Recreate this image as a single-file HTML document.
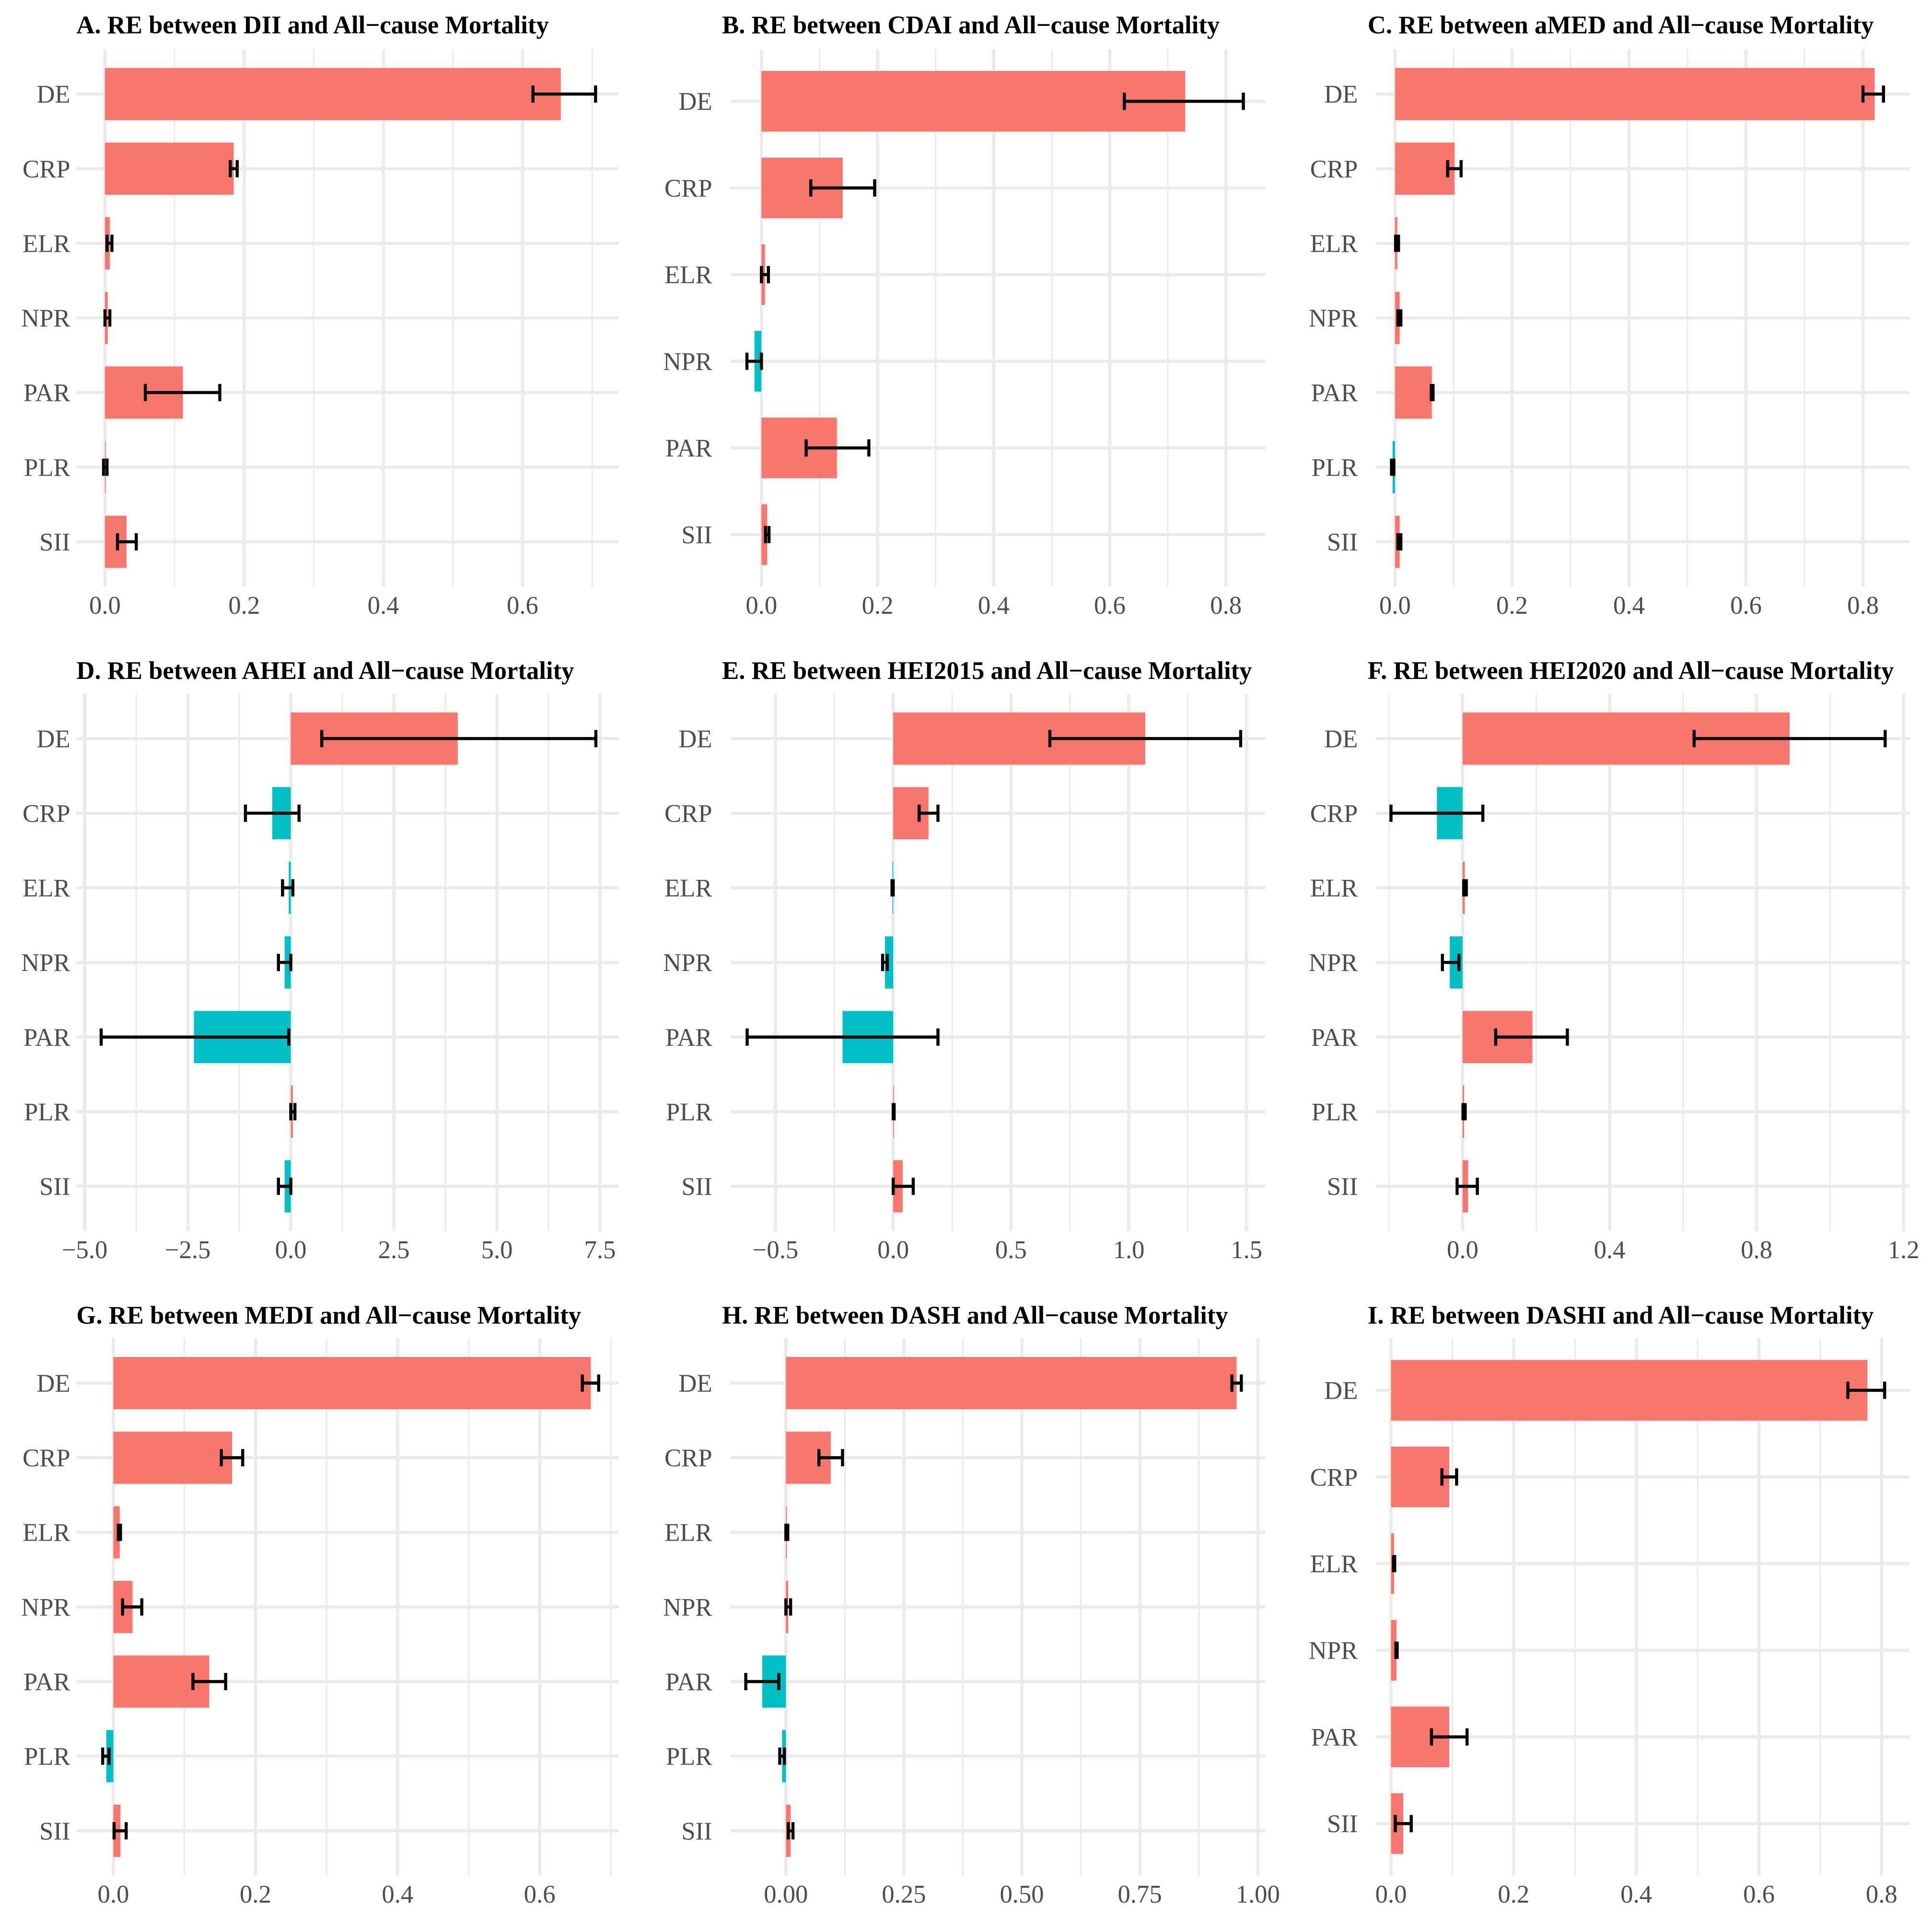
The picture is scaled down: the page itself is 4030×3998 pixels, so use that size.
<!DOCTYPE html>
<html><head><meta charset="utf-8"><style>
html,body{margin:0;padding:0;background:#fff;}
svg{display:block;}
text{font-family:"Liberation Serif",serif;}
</style></head><body>
<svg id="fig" width="4030" height="3998" viewBox="0 0 1568 1555.6" xmlns="http://www.w3.org/2000/svg">
<rect width="1568" height="1555.6" fill="#fff"/>
</svg>
<script>
const cats7 = ["DE","CRP","ELR","NPR","PAR","PLR","SII"];
const cats6 = ["DE","CRP","ELR","NPR","PAR","SII"];
const cats6b = ["DE","CRP","ELR","NPR","PAR","SII"];
// A
const estA=[0.655,0.185,0.007,0.004,0.112,0.001,0.031];
const lowA=[0.615,0.180,0.003,0.000,0.058,-0.002,0.018];
const highA=[0.705,0.190,0.010,0.007,0.165,0.003,0.045];
const ticksA=[0,0.2,0.4,0.6];
const tickLabA=["0.0","0.2","0.4","0.6"];
// B
const estB=[0.730,0.140,0.006,-0.012,0.130,0.010];
const lowB=[0.625,0.085,0.000,-0.025,0.077,0.007];
const highB=[0.830,0.195,0.012,0.000,0.185,0.013];
const ticksB=[0,0.2,0.4,0.6,0.8];
const tickLabB=["0.0","0.2","0.4","0.6","0.8"];
// C
const estC=[0.820,0.102,0.004,0.008,0.063,-0.004,0.008];
const lowC=[0.800,0.090,0.001,0.005,0.062,-0.006,0.005];
const highC=[0.835,0.113,0.006,0.010,0.065,-0.002,0.010];
const ticksC=[0,0.2,0.4,0.6,0.8];
const tickLabC=["0.0","0.2","0.4","0.6","0.8"];
// D
const estD=[4.05,-0.45,-0.05,-0.15,-2.35,0.05,-0.15];
const lowD=[0.75,-1.10,-0.20,-0.30,-4.60,0.00,-0.30];
const highD=[7.40,0.20,0.05,0.00,-0.05,0.10,0.00];
const ticksD=[-5,-2.5,0,2.5,5,7.5];
const tickLabD=["\u22125.0","\u22122.5","0.0","2.5","5.0","7.5"];
// E
const estE=[1.070,0.150,-0.003,-0.035,-0.215,0.002,0.040];
const lowE=[0.665,0.110,-0.005,-0.045,-0.620,0.000,0.000];
const highE=[1.475,0.190,0.000,-0.025,0.190,0.004,0.085];
const ticksE=[-0.5,0,0.5,1.0,1.5];
const tickLabE=["\u22120.5","0.0","0.5","1.0","1.5"];
// F
const estF=[0.890,-0.070,0.006,-0.035,0.190,0.004,0.015];
const lowF=[0.630,-0.195,0.003,-0.055,0.090,0.001,-0.015];
const highF=[1.150,0.055,0.010,-0.010,0.285,0.007,0.040];
const ticksF=[0,0.4,0.8,1.2];
const tickLabF=["0.0","0.4","0.8","1.2"];
// G
const estG=[0.672,0.167,0.009,0.027,0.135,-0.010,0.010];
const lowG=[0.660,0.152,0.007,0.013,0.112,-0.015,0.001];
const highG=[0.683,0.182,0.010,0.040,0.158,-0.006,0.018];
const ticksG=[0,0.2,0.4,0.6];
const tickLabG=["0.0","0.2","0.4","0.6"];
// H
const estH=[0.955,0.095,0.002,0.005,-0.050,-0.008,0.010];
const lowH=[0.945,0.070,0.000,0.000,-0.085,-0.013,0.005];
const highH=[0.965,0.120,0.004,0.010,-0.015,-0.003,0.015];
const ticksH=[0,0.25,0.5,0.75,1.0];
const tickLabH=["0.00","0.25","0.50","0.75","1.00"];
// I
const estI=[0.777,0.095,0.005,0.009,0.095,0.020];
const lowI=[0.745,0.083,0.004,0.008,0.066,0.007];
const highI=[0.805,0.107,0.006,0.010,0.124,0.033];
const ticksI=[0,0.2,0.4,0.6,0.8];
const tickLabI=["0.0","0.2","0.4","0.6","0.8"];

const NS="http://www.w3.org/2000/svg";
const svg=document.getElementById("fig");
function mk(tag,attrs,parent){const e=document.createElementNS(NS,tag);for(const k in attrs)e.setAttribute(k,attrs[k]);(parent||svg).appendChild(e);return e;}

const cols=[{gl:62,gr:502,tx:62,lx:57},{gl:593,gr:1027,tx:586,lx:578},{gl:1117,gr:1550,tx:1110,lx:1102}];
const rows=[{top:40,bot:476,ty:27,tk:498},{top:563,bot:999,ty:551,tk:1021},{top:1086,bot:1522,ty:1074,tk:1544}];

const panels=[
 {id:"a",title:"A. RE between DII and All\u2212cause Mortality",c:0,r:0,cats:cats7,est:estA,low:lowA,high:highA,ticks:ticksA,lab:tickLabA,d0:-0.041,d1:0.738},
 {id:"b",title:"B. RE between CDAI and All\u2212cause Mortality",c:1,r:0,cats:cats6,est:estB,low:lowB,high:highB,ticks:ticksB,lab:tickLabB,d0:-0.053,d1:0.868},
 {id:"c",title:"C. RE between aMED and All\u2212cause Mortality",c:2,r:0,cats:cats7,est:estC,low:lowC,high:highC,ticks:ticksC,lab:tickLabC,d0:-0.032,d1:0.880},
 {id:"d",title:"D. RE between AHEI and All\u2212cause Mortality",c:0,r:1,cats:cats7,est:estD,low:lowD,high:highD,ticks:ticksD,lab:tickLabD,d0:-5.2,d1:7.95},
 {id:"e",title:"E. RE between HEI2015 and All\u2212cause Mortality",c:1,r:1,cats:cats7,est:estE,low:lowE,high:highE,ticks:ticksE,lab:tickLabE,d0:-0.69,d1:1.58},
 {id:"f",title:"F. RE between HEI2020 and All\u2212cause Mortality",c:2,r:1,cats:cats7,est:estF,low:lowF,high:highF,ticks:ticksF,lab:tickLabF,d0:-0.235,d1:1.217},
 {id:"g",title:"G. RE between MEDI and All\u2212cause Mortality",c:0,r:2,cats:cats7,est:estG,low:lowG,high:highG,ticks:ticksG,lab:tickLabG,d0:-0.052,d1:0.711},
 {id:"h",title:"H. RE between DASH and All\u2212cause Mortality",c:1,r:2,cats:cats7,est:estH,low:lowH,high:highH,ticks:ticksH,lab:tickLabH,d0:-0.117,d1:1.016},
 {id:"i",title:"I. RE between DASHI and All\u2212cause Mortality",c:2,r:2,cats:cats6b,est:estI,low:lowI,high:highI,ticks:ticksI,lab:tickLabI,d0:-0.024,d1:0.846}
];

panels.forEach(p=>{
  const col=cols[p.c], row=rows[p.r];
  const g=mk("g",{});
  
  
  const x=v=>col.gl+(v-p.d0)/(p.d1-p.d0)*(col.gr-col.gl);
  const n=p.cats.length;
  const pitch=(row.bot-row.top)/(n-1+1.2);
  const y=i=>row.top+pitch*(0.6+i);
  for(let k=0;k<p.ticks.length+1;k++){
    const step=p.ticks[1]-p.ticks[0];
    const v=p.ticks[0]-step/2+k*step;
    const px=x(v);
    if(px<col.gl||px>col.gr) continue;
    const l=mk("line",{x1:px,x2:px,y1:row.top,y2:row.bot,stroke:"#ebebeb","stroke-width":1.3},g);
    
    
  }
  p.ticks.forEach((v,k)=>{
    const px=x(v);
    const l=mk("line",{x1:px,x2:px,y1:row.top,y2:row.bot,stroke:"#ebebeb","stroke-width":2.6},g);
    
    
    const t=mk("text",{x:px,y:row.tk,"text-anchor":"middle","font-size":20.5,fill:"#4d4d4d"},g);
    t.textContent=p.lab[k];
    
    
  });
  p.cats.forEach((c,i)=>{
    const l=mk("line",{x1:col.gl,x2:col.gr,y1:y(i),y2:y(i),stroke:"#ebebeb","stroke-width":2.6},g);
    
    
    const t=mk("text",{x:col.lx,y:y(i)+7,"text-anchor":"end","font-size":20.5,fill:"#4d4d4d"},g);
    t.textContent=c;
    
    
  });
  const bh=pitch*0.7;
  p.cats.forEach((c,i)=>{
    const v=p.est[i];
    const x0=x(0), x1=x(v);
    const r=mk("rect",{x:Math.min(x0,x1),y:y(i)-bh/2,width:Math.max(Math.abs(x1-x0),0.6),height:bh,fill:v>=0?"#F8766D":"#00BFC4"},g);
    
    
  });
  p.cats.forEach((c,i)=>{
    const a=x(p.low[i]), b=x(p.high[i]), yy=y(i), h=7;
    const e=mk("path",{d:`M${a},${yy}H${b}M${a},${yy-h}V${yy+h}M${b},${yy-h}V${yy+h}`,stroke:"#000","stroke-width":2.5,fill:"none"},g);
    
    
  });
  const t=mk("text",{x:col.tx,y:row.ty,"font-size":20.5,"font-weight":"bold",fill:"#000"},g);
  t.textContent=p.title;
  
  
});
</script>
</body></html>
